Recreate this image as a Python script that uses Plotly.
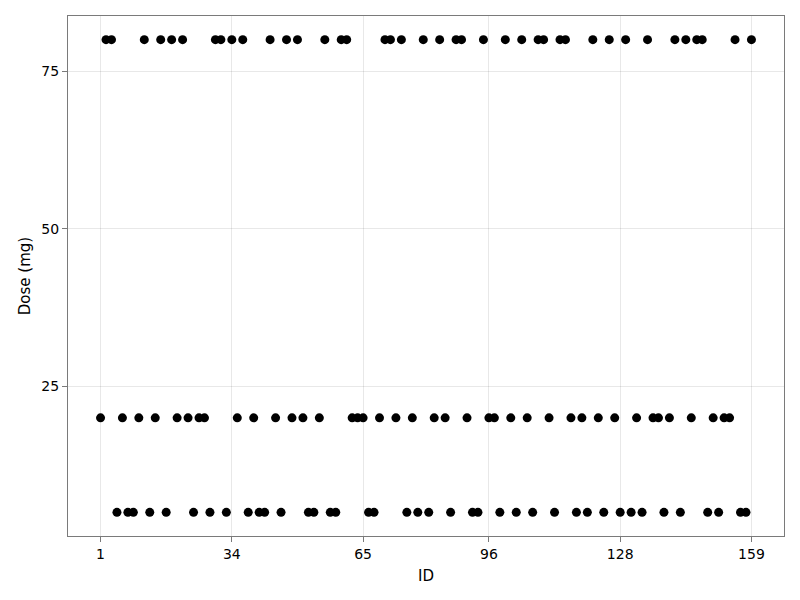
import plotly.graph_objects as go

# Dose (mg) per subject, in the axis order of subjects (120 subjects)
dose = [
    20, 80, 80, 5, 20, 5, 5, 20, 80, 5,
    20, 80, 5, 80, 20, 80, 20, 5, 20, 20,
    5, 80, 80, 5, 80, 20, 80, 5, 20, 5,
    5, 80, 20, 5, 80, 20, 80, 20, 5, 5,
    20, 80, 5, 5, 80, 80, 20, 20, 20, 5,
    5, 20, 80, 80, 20, 80, 5, 20, 5, 80,
    5, 20, 80, 20, 5, 80, 80, 20, 5, 5,
    80, 20, 20, 5, 80, 20, 5, 80, 20, 5,
    80, 80, 20, 5, 80, 80, 20, 5, 20, 5,
    80, 20, 5, 80, 20, 5, 80, 5, 20, 5,
    80, 20, 20, 5, 20, 80, 5, 80, 20, 80,
    80, 5, 20, 5, 20, 20, 80, 5, 5, 80,
]
subject_order = list(range(1, len(dose) + 1))
tick_order = [1, 25, 49, 72, 96, 120]
tick_labels = ["1", "34", "65", "96", "128", "159"]
y_ticks = [25, 50, 75]

n = len(dose)
pad_x = 0.05 * (n - 1)
pad_y = 0.05 * (max(dose) - min(dose))

fig = go.Figure(go.Scatter(
    x=subject_order, y=dose, mode="markers",
    marker=dict(color="black", size=9, line=dict(width=0)),
    showlegend=False,
))

axis_common = dict(
    showline=True, linecolor="#7a7a7a", linewidth=1.3, mirror=True,
    showgrid=True, gridcolor="rgba(0,0,0,0.09)", gridwidth=1,
    ticks="outside", ticklen=5, tickwidth=1, tickcolor="#7a7a7a",
    zeroline=False, tickfont=dict(size=14, color="black"),
    title_font=dict(size=15, color="black"),
)

fig.update_xaxes(
    range=[1 - pad_x, n + pad_x], tickvals=tick_order, ticktext=tick_labels,
    title_text="ID", title_standoff=9, **axis_common,
)
fig.update_yaxes(
    range=[min(dose) - pad_y, max(dose) + pad_y], tickvals=y_ticks,
    title_text="Dose (mg)", title_standoff=6, **axis_common,
)

fig.update_layout(
    width=800, height=600,
    margin=dict(l=60, r=24, t=8, b=72),
    plot_bgcolor="white", paper_bgcolor="white",
    font=dict(family="DejaVu Sans", color="black"),
)

fig.write_html("out.html")
